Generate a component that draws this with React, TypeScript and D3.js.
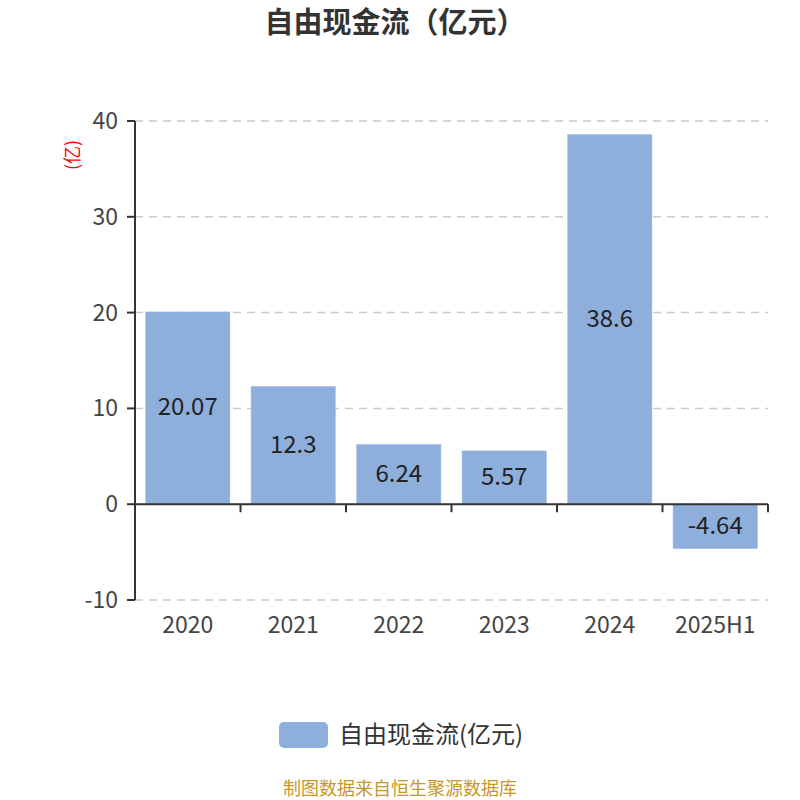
import * as d3 from "d3";
import React from "react";

const categories = ["2020", "2021", "2022", "2023", "2024", "2025H1"];
const values = [20.07, 12.3, 6.24, 5.57, 38.6, -4.64];
const valueLabels = ["20.07", "12.3", "6.24", "5.57", "38.6", "-4.64"];
const yTicks = [-10, 0, 10, 20, 30, 40];

const W = 800;
const H = 800;
const margin = { top: 121, right: 32, bottom: 200, left: 135 };
const FONT = "'Noto Sans CJK SC', 'Open Sans', sans-serif";

export default function App() {
  const innerW = W - margin.left - margin.right;
  const innerH = H - margin.top - margin.bottom;

  const x = d3.scaleBand<string>().domain(categories).range([0, innerW]).paddingInner(0.2).paddingOuter(0.1);
  const y = d3.scaleLinear().domain([-10, 40]).range([innerH, 0]);
  const step = x.step();

  return (
    <svg width={W} height={H} style={{ position: "absolute", left: 0, top: 0, background: "#fff" }} fontFamily={FONT}>
      <text x={395} y={33} textAnchor="middle" fontSize={29} fontWeight="bold" fill="#333">
        自由现金流（亿元）
      </text>
      <text
        transform={`translate(73,155) rotate(-90)`}
        textAnchor="middle"
        dy="0.35em"
        fontSize={18}
        fill="#ff0000"
      >
        (亿)
      </text>
      <g transform={`translate(${margin.left},${margin.top})`}>
        {yTicks.map((t) => (
          <g key={t}>
            <line x1={0} x2={innerW} y1={y(t)} y2={y(t)} stroke="#ccc" strokeWidth={1.5} strokeDasharray="8,6" />
            <line x1={-8} x2={0} y1={y(t)} y2={y(t)} stroke="#333" strokeWidth={2} />
            <text x={-17} y={y(t)} dy="0.35em" textAnchor="end" fontSize={23} fill="#444">
              {t}
            </text>
          </g>
        ))}
        {values.map((v, i) => {
          const bx = x(categories[i]) ?? 0;
          const y0 = y(Math.max(0, v));
          const y1 = y(Math.min(0, v));
          return (
            <g key={categories[i]}>
              <rect x={bx} y={y0} width={x.bandwidth()} height={y1 - y0} fill="#8eaedb" stroke="#a9c2e6" strokeWidth={0.5} />
              <text x={bx + x.bandwidth() / 2} y={(y0 + y1) / 2 - 1} dy="0.35em" textAnchor="middle" fontSize={24} fill="#222">
                {valueLabels[i]}
              </text>
            </g>
          );
        })}
        <line x1={0} x2={0} y1={0} y2={innerH} stroke="#333" strokeWidth={2} />
        <line x1={0} x2={innerW} y1={y(0)} y2={y(0)} stroke="#333" strokeWidth={2} />
        {categories.map((c, i) => (
          <g key={c}>
            <line x1={step * (i + 1)} x2={step * (i + 1)} y1={y(0)} y2={y(0) + 8} stroke="#333" strokeWidth={2} />
            <text x={(x(c) ?? 0) + x.bandwidth() / 2} y={innerH + 25} dy="0.35em" textAnchor="middle" fontSize={23} fill="#444">
              {c}
            </text>
          </g>
        ))}
      </g>
      <rect x={279} y={722} width={49} height={26} rx={5} fill="#8eaedb" />
      <text x={339} y={735} dy="0.35em" fontSize={24} fill="#333">
        自由现金流(亿元)
      </text>
      <text x={W / 2} y={789} dy="0.35em" textAnchor="middle" fontSize={18} fill="#c8962a">
        制图数据来自恒生聚源数据库
      </text>
    </svg>
  );
}
